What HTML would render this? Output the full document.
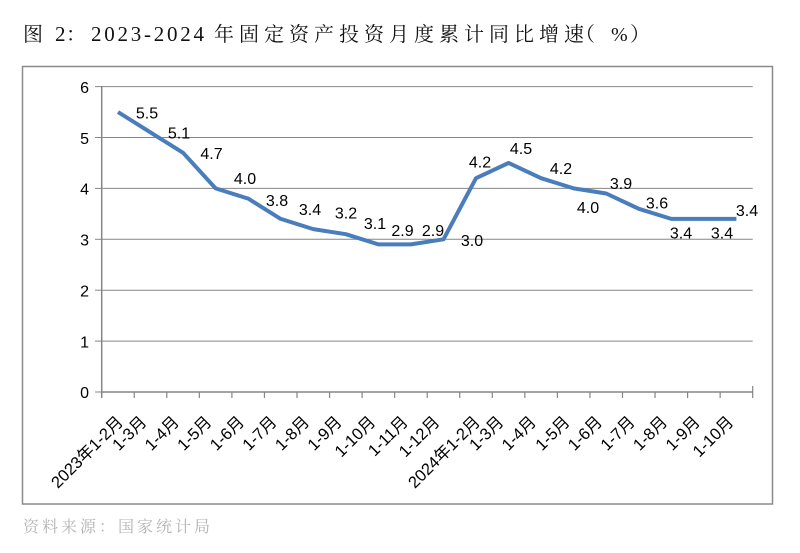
<!DOCTYPE html>
<html>
<head>
<meta charset="utf-8">
<style>
html,body{margin:0;padding:0;background:#fff;}
svg{display:block;}
</style>
</head>
<body>
<svg width="800" height="553" viewBox="0 0 800 553" xmlns="http://www.w3.org/2000/svg">
<rect x="0" y="0" width="800" height="553" fill="#fff"/>
<!-- Title -->
<g font-family="'Liberation Serif','Noto Serif CJK SC',serif" fill="#111">
  <text x="23" y="41" font-size="20" font-family="'Noto Serif CJK SC',serif">图</text>
  <text x="55" y="41" font-size="21">2</text>
  <text x="66" y="41" font-size="20" font-family="'Noto Serif CJK SC',serif">：</text>
  <text x="91" y="41" font-size="21" textLength="113" lengthAdjust="spacing">2023-2024</text>
  <text x="214" y="41" font-size="20" font-family="'Noto Serif CJK SC',serif" letter-spacing="5">年固定资产投资月度累计同比增速</text>
  <text x="575" y="41" font-size="20" font-family="'Noto Serif CJK SC',serif">（</text>
  <text x="611" y="41" font-size="20">%</text>
  <text x="630" y="41" font-size="20" font-family="'Noto Serif CJK SC',serif">）</text>
</g>
<!-- Frame -->
<rect x="22.5" y="66.5" width="750" height="437.5" fill="none" stroke="#8a8a8a" stroke-width="1.5"/>
<!-- Gridlines -->
<g stroke="#868686" stroke-width="1">
  <line x1="101.7" y1="86.6" x2="752.7" y2="86.6"/>
  <line x1="101.7" y1="137.5" x2="752.7" y2="137.5"/>
  <line x1="101.7" y1="188.4" x2="752.7" y2="188.4"/>
  <line x1="101.7" y1="239.3" x2="752.7" y2="239.3"/>
  <line x1="101.7" y1="290.2" x2="752.7" y2="290.2"/>
  <line x1="101.7" y1="341.1" x2="752.7" y2="341.1"/>
  <line x1="95" y1="86.6" x2="101.7" y2="86.6"/>
  <line x1="95" y1="137.5" x2="101.7" y2="137.5"/>
  <line x1="95" y1="188.4" x2="101.7" y2="188.4"/>
  <line x1="95" y1="239.3" x2="101.7" y2="239.3"/>
  <line x1="95" y1="290.2" x2="101.7" y2="290.2"/>
  <line x1="95" y1="341.1" x2="101.7" y2="341.1"/>
  <line x1="95" y1="392" x2="101.7" y2="392"/>
</g>
<!-- Axes -->
<g stroke="#868686" stroke-width="1.5">
  <line x1="101.7" y1="86" x2="101.7" y2="398"/>
  <line x1="101" y1="392" x2="752.7" y2="392"/>
</g>
<!-- x ticks -->
<g stroke="#868686" stroke-width="1.2">
  <line x1="134.25" y1="392" x2="134.25" y2="398"/>
  <line x1="166.8" y1="392" x2="166.8" y2="398"/>
  <line x1="199.35" y1="392" x2="199.35" y2="398"/>
  <line x1="231.9" y1="392" x2="231.9" y2="398"/>
  <line x1="264.45" y1="392" x2="264.45" y2="398"/>
  <line x1="297" y1="392" x2="297" y2="398"/>
  <line x1="329.55" y1="392" x2="329.55" y2="398"/>
  <line x1="362.1" y1="392" x2="362.1" y2="398"/>
  <line x1="394.65" y1="392" x2="394.65" y2="398"/>
  <line x1="427.2" y1="392" x2="427.2" y2="398"/>
  <line x1="459.75" y1="392" x2="459.75" y2="398"/>
  <line x1="492.3" y1="392" x2="492.3" y2="398"/>
  <line x1="524.85" y1="392" x2="524.85" y2="398"/>
  <line x1="557.4" y1="392" x2="557.4" y2="398"/>
  <line x1="589.95" y1="392" x2="589.95" y2="398"/>
  <line x1="622.5" y1="392" x2="622.5" y2="398"/>
  <line x1="655.05" y1="392" x2="655.05" y2="398"/>
  <line x1="687.6" y1="392" x2="687.6" y2="398"/>
  <line x1="720.15" y1="392" x2="720.15" y2="398"/>
  <line x1="752.7" y1="386" x2="752.7" y2="398"/>
</g>
<!-- Y labels -->
<g font-family="'Liberation Sans',sans-serif" font-size="16" fill="#000" text-anchor="end">
  <text x="89" y="93">6</text>
  <text x="89" y="144">5</text>
  <text x="89" y="194.5">4</text>
  <text x="89" y="245.5">3</text>
  <text x="89" y="296.5">2</text>
  <text x="89" y="347.5">1</text>
  <text x="89" y="398">0</text>
</g>
<!-- Series line -->
<polyline fill="none" stroke="#4a7dbb" stroke-width="4" stroke-linejoin="round" stroke-linecap="butt"
 points="118,112.05 150.5,132.4 183.1,152.8 215.6,188.4 248.2,198.6 280.7,218.9 313.3,229.1 345.8,234.2 378.4,244.4 410.9,244.4 443.5,239.3 476,178.2 508.6,162.95 541.1,178.2 573.7,188.4 606.2,193.5 638.8,208.8 671.3,218.9 703.9,218.9 736.4,218.9"/>
<!-- Data labels -->
<g font-family="'Liberation Sans',sans-serif" font-size="16" fill="#000" text-anchor="middle">
  <text x="147" y="118.5">5.5</text>
  <text x="179" y="138.5">5.1</text>
  <text x="211.5" y="159">4.7</text>
  <text x="245" y="184">4.0</text>
  <text x="277" y="206">3.8</text>
  <text x="310" y="215">3.4</text>
  <text x="346" y="218.5">3.2</text>
  <text x="375" y="229">3.1</text>
  <text x="402.5" y="236">2.9</text>
  <text x="433" y="236">2.9</text>
  <text x="472" y="246">3.0</text>
  <text x="480" y="167.5">4.2</text>
  <text x="521" y="154">4.5</text>
  <text x="561" y="174">4.2</text>
  <text x="588" y="213">4.0</text>
  <text x="621" y="189">3.9</text>
  <text x="657" y="208.5">3.6</text>
  <text x="681" y="238.5">3.4</text>
  <text x="722" y="238.5">3.4</text>
  <text x="747" y="216">3.4</text>
</g>
<!-- X labels -->
<g font-family="'Liberation Sans','Noto Sans CJK SC',sans-serif" font-size="16.5" fill="#000" text-anchor="end">
  <text transform="translate(124,423) rotate(-45)">2023年1-2月</text>
  <text transform="translate(147.5,423) rotate(-45)">1-3月</text>
  <text transform="translate(180.1,423) rotate(-45)">1-4月</text>
  <text transform="translate(212.6,423) rotate(-45)">1-5月</text>
  <text transform="translate(245.2,423) rotate(-45)">1-6月</text>
  <text transform="translate(277.7,423) rotate(-45)">1-7月</text>
  <text transform="translate(310.3,423) rotate(-45)">1-8月</text>
  <text transform="translate(342.8,423) rotate(-45)">1-9月</text>
  <text transform="translate(376.4,423) rotate(-45)">1-10月</text>
  <text transform="translate(408.9,423) rotate(-45)">1-11月</text>
  <text transform="translate(440.5,423) rotate(-45)">1-12月</text>
  <text transform="translate(481,423) rotate(-45)">2024年1-2月</text>
  <text transform="translate(504.6,423) rotate(-45)">1-3月</text>
  <text transform="translate(537.1,423) rotate(-45)">1-4月</text>
  <text transform="translate(570.7,423) rotate(-45)">1-5月</text>
  <text transform="translate(603.2,423) rotate(-45)">1-6月</text>
  <text transform="translate(635.8,423) rotate(-45)">1-7月</text>
  <text transform="translate(668.3,423) rotate(-45)">1-8月</text>
  <text transform="translate(700.9,423) rotate(-45)">1-9月</text>
  <text transform="translate(734.4,423) rotate(-45)">1-10月</text>
</g>
<!-- Source -->
<text x="23" y="532" font-family="'Noto Serif CJK SC',serif" font-size="16" fill="#b3b3b3" letter-spacing="3">资料来源：国家统计局</text>
</svg>
</body>
</html>
